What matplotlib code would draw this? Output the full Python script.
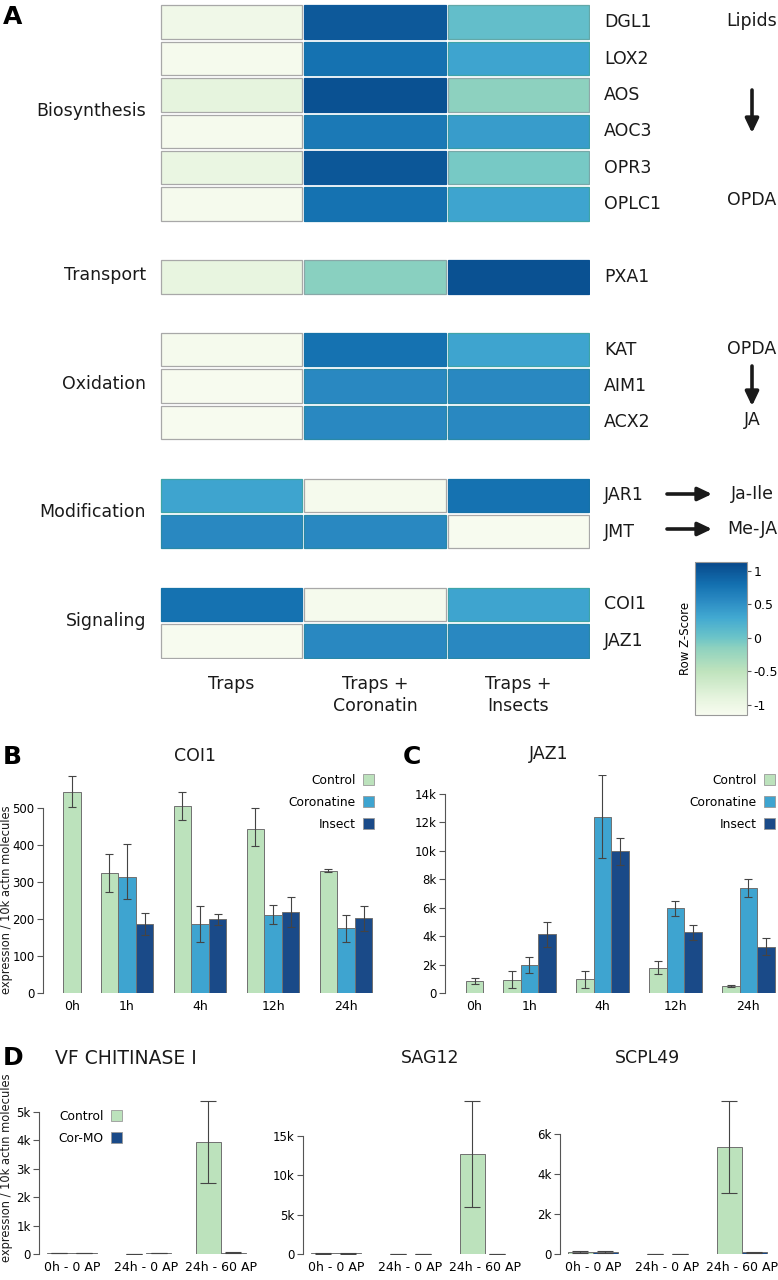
import numpy as np
import matplotlib
matplotlib.use('Agg')
import matplotlib.pyplot as plt
from matplotlib.colors import LinearSegmentedColormap, Normalize, to_rgb
from matplotlib.patches import Patch, FancyArrowPatch
import matplotlib.cm as cm

plt.rcParams['font.family'] = ['DejaVu Sans']

# ---------------- data ----------------
genes = ['DGL1', 'LOX2', 'AOS', 'AOC3', 'OPR3', 'OPLC1', 'PXA1', 'KAT', 'AIM1',
         'ACX2', 'JAR1', 'JMT', 'COI1', 'JAZ1']
conditions = ['Traps', 'Traps +\nCoronatin', 'Traps +\nInsects']
z_traps = [-1.05, -1.12, -0.90, -1.12, -0.95, -1.12, -0.92, -1.12, -1.15, -1.15,
           0.34, 0.575, 0.78, -1.15]
z_coronatin = [0.98, 0.78, 1.05, 0.72, 1.00, 0.78, -0.13, 0.78, 0.575, 0.575,
               -1.12, 0.575, -1.12, 0.575]
z_insects = [0.07, 0.34, -0.15, 0.40, -0.05, 0.34, 1.05, 0.34, 0.575, 0.575,
             0.78, -1.15, 0.34, 0.575]
categories = ['Biosynthesis', 'Transport', 'Oxidation', 'Modification', 'Signaling']
category_genes = [['DGL1', 'LOX2', 'AOS', 'AOC3', 'OPR3', 'OPLC1'], ['PXA1'],
                  ['KAT', 'AIM1', 'ACX2'], ['JAR1', 'JMT'], ['COI1', 'JAZ1']]

timepoints = ['0h', '1h', '4h', '12h', '24h']
coi1_control = [545, 324, 506, 443, 331]
coi1_control_lo = [504, 273, 468, 399, 327]
coi1_control_hi = [588, 376, 543, 502, 335]
coi1_coronatine = [np.nan, 315, 187, 212, 176]
coi1_coronatine_lo = [np.nan, 254, 138, 187, 138]
coi1_coronatine_hi = [np.nan, 402, 236, 238, 212]
coi1_insect = [np.nan, 186, 199, 220, 203]
coi1_insect_lo = [np.nan, 156, 185, 178, 168]
coi1_insect_hi = [np.nan, 216, 214, 261, 236]

jaz1_control = [870, 940, 985, 1780, 490]
jaz1_control_lo = [660, 330, 375, 1340, 445]
jaz1_control_hi = [1055, 1550, 1570, 2230, 540]
jaz1_coronatine = [np.nan, 1970, 12380, 5960, 7390]
jaz1_coronatine_lo = [np.nan, 1410, 9500, 5420, 6780]
jaz1_coronatine_hi = [np.nan, 2530, 15340, 6500, 8000]
jaz1_insect = [np.nan, 4130, 9970, 4270, 3260]
jaz1_insect_lo = [np.nan, 3210, 9030, 3750, 2670]
jaz1_insect_hi = [np.nan, 5000, 10880, 4780, 3850]

d_groups = ['0h - 0 AP', '24h - 0 AP', '24h - 60 AP']
chit_control = [35, 10, 3950]
chit_control_lo = [20, 5, 2500]
chit_control_hi = [50, 15, 5390]
chit_cormo = [35, 30, 45]
chit_cormo_lo = [20, 20, 30]
chit_cormo_hi = [50, 40, 60]
sag12_control = [110, 10, 12720]
sag12_control_lo = [60, 5, 5980]
sag12_control_hi = [160, 15, 19470]
sag12_cormo = [110, 10, 15]
sag12_cormo_lo = [60, 5, 10]
sag12_cormo_hi = [160, 15, 20]
scpl49_control = [80, 5, 5350]
scpl49_control_lo = [30, 2, 3050]
scpl49_control_hi = [130, 8, 7650]
scpl49_cormo = [80, 5, 80]
scpl49_cormo_lo = [30, 2, 60]
scpl49_cormo_hi = [130, 8, 100]

# ---------------- layout helpers ----------------
W, H = 778, 1280
fig = plt.figure(figsize=(W / 100, H / 100), dpi=100)


def ax_px(x0, y0, x1, y1):
    return fig.add_axes([x0 / W, 1 - y1 / H, (x1 - x0) / W, (y1 - y0) / H])


def fx(x):
    return x / W


def fy(y):
    return 1 - y / H


C_CTRL = '#bce2bc'
C_COR = '#3ea4d0'
C_INS = '#1a4a88'
TXT = '#1a1a1a'

# ---------------- Panel A: heatmap ----------------
cmap = LinearSegmentedColormap.from_list('zs', [
    (0.00, '#f7fbef'), (0.11, '#e6f4de'), (0.285, '#bfe3bd'),
    (0.44, '#8dd1bf'), (0.505, '#6cc4c8'), (0.636, '#42a9d1'),
    (0.746, '#2b8bc3'), (0.855, '#1370b0'), (1.00, '#08488a')])
norm = Normalize(vmin=-1.15, vmax=1.13)

axh = ax_px(160, 4, 590, 659)
axh.set_xlim(0, 3)
axh.set_ylim(18, 0)
axh.axis('off')

# slot index for each gene: groups separated by one empty row
slots = []
s = 0
for grp in category_genes:
    for g in grp:
        slots.append(s)
        s += 1
    s += 1
slot_of = dict(zip(genes, slots))

zcols = [z_traps, z_coronatin, z_insects]
grey = np.array(to_rgb('#a8a8a8'))
for j, col in enumerate(zcols):
    for g, v in zip(genes, col):
        fc = np.array(cmap(norm(v))[:3])
        ec = np.minimum(fc, grey)
        axh.barh(slot_of[g] + 0.5, 0.984, left=j + 0.008, height=0.92,
                 color=fc, edgecolor=ec, linewidth=0.9)

for g in genes:
    axh.text(3.098, slot_of[g] + 0.5, g, ha='left', va='center',
             fontsize=12.5, color=TXT, clip_on=False)

for cat, grp in zip(categories, category_genes):
    yc = np.mean([slot_of[g] for g in grp]) + 0.45
    axh.text(-0.098, yc, cat, ha='right', va='center', fontsize=12.5,
             color=TXT, clip_on=False)

for j, c in enumerate(conditions):
    axh.text(j + 0.5, 18.45, c, ha='center', va='top', fontsize=12.5,
             color=TXT, linespacing=1.25, clip_on=False)

fig.text(fx(3), fy(17), 'A', fontsize=18, fontweight='bold', ha='left', va='center')

# pathway annotations
for txt, y in [('Lipids', 21), ('OPDA', 200), ('OPDA', 349), ('JA', 420)]:
    fig.text(fx(752), fy(y), txt, ha='center', va='center', fontsize=12.5, color=TXT)
fig.text(fx(752), fy(494), 'Ja-Ile', ha='center', va='center', fontsize=12.5, color=TXT)
fig.text(fx(752), fy(529), 'Me-JA', ha='center', va='center', fontsize=12.5, color=TXT)

arrows = [((752, 90), (752, 133)), ((752, 366), (752, 406)),
          ((667, 494), (712, 494)), ((667, 529), (712, 529))]
for (xa, ya), (xb, yb) in arrows:
    fig.add_artist(FancyArrowPatch((fx(xa), fy(ya)), (fx(xb), fy(yb)),
                                   transform=fig.transFigure,
                                   arrowstyle='-|>,head_length=0.42,head_width=0.2',
                                   mutation_scale=20, lw=2.6, color=TXT,
                                   shrinkA=0, shrinkB=0))

# colorbar
cax = ax_px(695, 562, 747, 715)
cb = fig.colorbar(cm.ScalarMappable(norm=norm, cmap=cmap), cax=cax)
cb.set_ticks([1, 0.5, 0, -0.5, -1])
cb.set_ticklabels(['1', '0.5', '0', '-0.5', '-1'])
cb.outline.set_edgecolor('#999999')
cb.outline.set_linewidth(0.8)
cax.tick_params(labelsize=9, length=3, width=0.8, color='#555555', pad=1.5)
cax.yaxis.set_label_position('left')
cax.set_ylabel('Row Z-Score', fontsize=8.5, labelpad=2)

# ---------------- bar panel helper ----------------


def style_axis(ax, ytop_tick):
    for sp in ['top', 'right', 'bottom']:
        ax.spines[sp].set_visible(False)
    ax.spines['left'].set_bounds(0, ytop_tick)
    ax.spines['left'].set_color('#555555')
    ax.spines['left'].set_linewidth(0.8)
    ax.tick_params(axis='y', labelsize=8.5, length=4, width=0.8, color='#555555', pad=2)
    ax.tick_params(axis='x', labelsize=9, length=0, pad=5)


def draw_bars(ax, xs, vals, lo, hi, color, width, capsize):
    vals = np.asarray(vals, float)
    lo = np.asarray(lo, float)
    hi = np.asarray(hi, float)
    m = ~np.isnan(vals)
    xs = np.asarray(xs, float)[m]
    ax.bar(xs, vals[m], width=width, color=color, edgecolor='#707070', linewidth=0.7)
    ax.errorbar(xs, vals[m], yerr=[vals[m] - lo[m], hi[m] - vals[m]], fmt='none',
                ecolor='#444444', elinewidth=0.8, capsize=capsize, capthick=0.8)


def kfmt(v, pos):
    return '0' if v == 0 else '%dk' % round(v / 1000)


group_x = [0.25, 1, 2, 3, 4]
bw = 0.24

# ---------------- Panel B ----------------
axB = ax_px(43, 775, 385, 993)
axB.set_xlim(1 + (43 - 127) / 73, 1 + (385 - 127) / 73)
axB.set_ylim(0, 590)
ctrl_x = [group_x[0]] + [g - bw for g in group_x[1:]]
draw_bars(axB, ctrl_x, coi1_control, coi1_control_lo, coi1_control_hi, C_CTRL, bw, 3)
draw_bars(axB, group_x, coi1_coronatine, coi1_coronatine_lo, coi1_coronatine_hi, C_COR, bw, 3)
draw_bars(axB, [g + bw for g in group_x], coi1_insect, coi1_insect_lo, coi1_insect_hi, C_INS, bw, 3)
axB.set_xticks(group_x)
axB.set_xticklabels(timepoints)
axB.set_yticks([0, 100, 200, 300, 400, 500])
style_axis(axB, 500)
fig.text(fx(7), fy(900), 'expression / 10k actin molecules', rotation=90,
         ha='center', va='center', fontsize=8.3, color=TXT)
fig.text(fx(195), fy(756), 'COI1', ha='center', va='center', fontsize=12.5, color=TXT)
fig.text(fx(3), fy(757), 'B', fontsize=18, fontweight='bold', ha='left', va='center')

legend_handles = [Patch(facecolor=C_CTRL, edgecolor='#999999', lw=0.6, label='Control'),
                  Patch(facecolor=C_COR, edgecolor='#999999', lw=0.6, label='Coronatine'),
                  Patch(facecolor=C_INS, edgecolor='#999999', lw=0.6, label='Insect')]
axB.legend(handles=legend_handles, loc='upper right', bbox_to_anchor=(fx(374), fy(774)),
           bbox_transform=fig.transFigure, frameon=False, markerfirst=False,
           fontsize=8.8, handlelength=0.9, handleheight=1.0, handletextpad=0.6,
           labelspacing=0.72, borderpad=0, borderaxespad=0)

# ---------------- Panel C ----------------
axC = ax_px(445, 775, 778, 993)
axC.set_xlim(1 + (445 - 529.3) / 73, 1 + (778 - 529.3) / 73)
axC.set_ylim(0, 15340)
draw_bars(axC, ctrl_x, jaz1_control, jaz1_control_lo, jaz1_control_hi, C_CTRL, bw, 3)
draw_bars(axC, group_x, jaz1_coronatine, jaz1_coronatine_lo, jaz1_coronatine_hi, C_COR, bw, 3)
draw_bars(axC, [g + bw for g in group_x], jaz1_insect, jaz1_insect_lo, jaz1_insect_hi, C_INS, bw, 3)
axC.set_xticks(group_x)
axC.set_xticklabels(timepoints)
axC.set_yticks(np.arange(0, 14001, 2000))
axC.yaxis.set_major_formatter(plt.FuncFormatter(kfmt))
style_axis(axC, 14000)
fig.text(fx(549), fy(754), 'JAZ1', ha='center', va='center', fontsize=12.5, color=TXT)
fig.text(fx(403), fy(757), 'C', fontsize=18, fontweight='bold', ha='left', va='center')
axC.legend(handles=legend_handles, loc='upper right', bbox_to_anchor=(fx(775), fy(774)),
           bbox_transform=fig.transFigure, frameon=False, markerfirst=False,
           fontsize=8.8, handlelength=0.9, handleheight=1.0, handletextpad=0.6,
           labelspacing=0.72, borderpad=0, borderaxespad=0)

# ---------------- Panel D ----------------
dw = 0.335
dx = [0, 1, 2]
d_specs = [
    (39, 'VF CHITINASE I', 5600, 5000, [0, 1000, 2000, 3000, 4000, 5000],
     (chit_control, chit_control_lo, chit_control_hi), (chit_cormo, chit_cormo_lo, chit_cormo_hi), 126),
    (303, 'SAG12', 20200, 15000, [0, 5000, 10000, 15000],
     (sag12_control, sag12_control_lo, sag12_control_hi), (sag12_cormo, sag12_cormo_lo, sag12_cormo_hi), 430),
    (560, 'SCPL49', 7950, 6000, [0, 2000, 4000, 6000],
     (scpl49_control, scpl49_control_lo, scpl49_control_hi), (scpl49_cormo, scpl49_cormo_lo, scpl49_cormo_hi), 648),
]
for i, (x0, title, ytop, ytick_top, yticks, ctl, cmo, tx) in enumerate(d_specs):
    ax = ax_px(x0, 1095, x0 + 213, 1254)
    ax.set_xlim(-0.44, 2.42)
    ax.set_ylim(0, ytop)
    draw_bars(ax, [x - dw / 2 for x in dx], *ctl, C_CTRL, dw, 5.5)
    draw_bars(ax, [x + dw / 2 for x in dx], *cmo, C_INS, dw, 5.5)
    ax.set_xticks(dx)
    ax.set_xticklabels(d_groups)
    ax.set_yticks(yticks)
    ax.yaxis.set_major_formatter(plt.FuncFormatter(kfmt))
    style_axis(ax, ytick_top)
    fig.text(fx(tx), fy(1058), title, ha='center', va='center',
             fontsize=13.5 if i == 0 else 12.5, color=TXT)
    if i == 0:
        ax.legend(handles=[Patch(facecolor=C_CTRL, edgecolor='#999999', lw=0.6, label='Control'),
                           Patch(facecolor=C_INS, edgecolor='#999999', lw=0.6, label='Cor-MO')],
                  loc='upper right', bbox_to_anchor=(fx(122), fy(1110)),
                  bbox_transform=fig.transFigure, frameon=False, markerfirst=False,
                  fontsize=8.8, handlelength=0.9, handleheight=1.0, handletextpad=0.6,
                  labelspacing=0.72, borderpad=0, borderaxespad=0)

fig.text(fx(7), fy(1168), 'expression / 10k actin molecules', rotation=90,
         ha='center', va='center', fontsize=8.3, color=TXT)
fig.text(fx(3), fy(1058), 'D', fontsize=18, fontweight='bold', ha='left', va='center')

fig.savefig('out.png', dpi=100)
